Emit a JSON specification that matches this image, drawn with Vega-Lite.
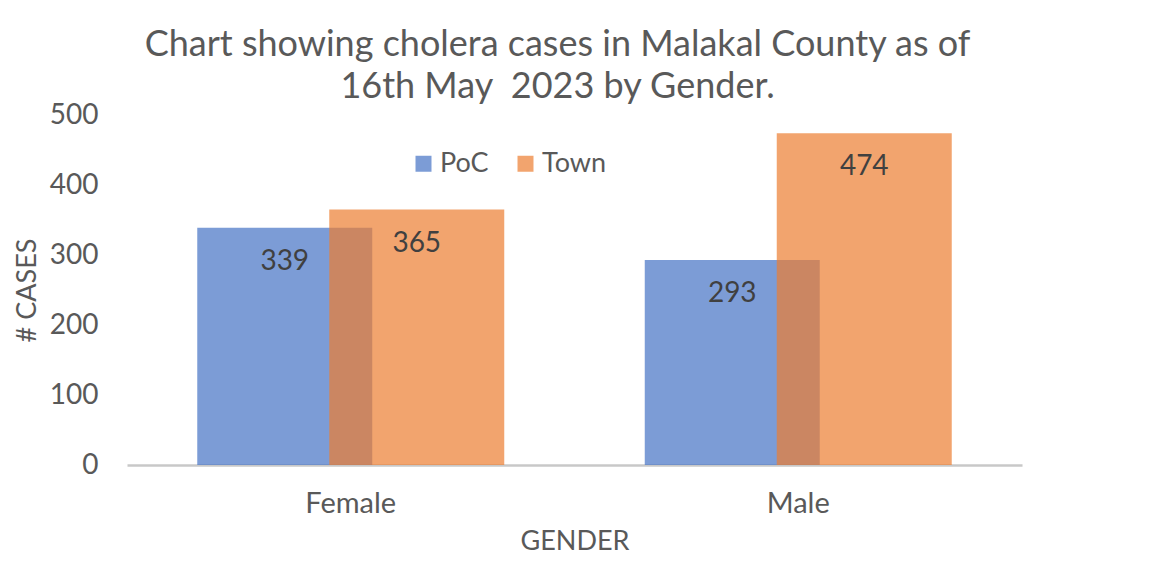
{
  "$schema": "https://vega.github.io/schema/vega-lite/v6.json",
  "width": 895,
  "height": 350,
  "autosize": {"type": "none"},
  "padding": {"left": 127, "top": 115, "right": 131, "bottom": 98},
  "background": "white",
  "title": {
    "text": ["Chart showing cholera cases in Malakal County as of", "16th May\u00a0 2023 by Gender."],
    "font": "Lato",
    "fontSize": 36,
    "fontWeight": "normal",
    "color": "#595959",
    "anchor": "middle",
    "dx": -17,
    "offset": -5,
    "lineHeight": 42
  },
  "data": {
    "values": [
      {"Gender": "Female", "Series": "PoC", "Cases": 339},
      {"Gender": "Female", "Series": "Town", "Cases": 365},
      {"Gender": "Male", "Series": "PoC", "Cases": 293},
      {"Gender": "Male", "Series": "Town", "Cases": 474}
    ]
  },
  "encoding": {
    "x": {
      "field": "Gender",
      "type": "nominal",
      "scale": {"paddingInner": 0, "paddingOuter": 0},
      "axis": {
        "title": "GENDER",
        "labelAngle": 0,
        "labelFont": "Lato",
        "labelFontSize": 29,
        "labelColor": "#595959",
        "labelPadding": 24,
        "ticks": false,
        "domainColor": "#c8c8c8",
        "domainWidth": 2.5,
        "titleFont": "Lato",
        "titleFontSize": 27,
        "titleFontWeight": "normal",
        "titleColor": "#595959",
        "titlePadding": 10
      }
    },
    "y": {
      "field": "Cases",
      "type": "quantitative",
      "scale": {"domain": [0, 500]},
      "axis": {
        "title": "# CASES",
        "values": [0, 100, 200, 300, 400, 500],
        "grid": false,
        "domain": false,
        "ticks": false,
        "labelFont": "Lato",
        "labelFontSize": 28,
        "labelColor": "#595959",
        "labelPadding": 29,
        "titleFont": "Lato",
        "titleFontSize": 27,
        "titleFontWeight": "normal",
        "titleColor": "#595959",
        "titlePadding": 8
      }
    },
    "color": {
      "field": "Series",
      "type": "nominal",
      "scale": {"domain": ["PoC", "Town"], "range": ["#4472C4", "#ED7D31"]},
      "legend": {
        "title": null,
        "orient": "none",
        "direction": "horizontal",
        "legendX": 283,
        "legendY": 35,
        "symbolType": "square",
        "symbolSize": 256,
        "symbolOpacity": 0.7,
        "symbolStrokeWidth": 0,
        "labelFont": "Lato",
        "labelFontSize": 27,
        "labelColor": "#595959",
        "labelOffset": 3,
        "columnPadding": 23
      }
    }
  },
  "layer": [
    {
      "transform": [{"filter": "datum.Series === 'PoC'"}],
      "mark": {"type": "bar", "width": 175, "xOffset": -66, "opacity": 0.7}
    },
    {
      "transform": [{"filter": "datum.Series === 'Town'"}],
      "mark": {"type": "bar", "width": 175, "xOffset": 66, "opacity": 0.7}
    },
    {
      "transform": [{"filter": "datum.Series === 'PoC'"}],
      "mark": {"type": "text", "xOffset": -66, "dy": 34, "baseline": "middle", "font": "Lato", "fontSize": 28, "color": "#404040"},
      "encoding": {"text": {"field": "Cases", "type": "quantitative"}, "color": {"value": "#404040"}}
    },
    {
      "transform": [{"filter": "datum.Series === 'Town'"}],
      "mark": {"type": "text", "xOffset": 66, "dy": 34, "baseline": "middle", "font": "Lato", "fontSize": 28, "color": "#404040"},
      "encoding": {"text": {"field": "Cases", "type": "quantitative"}, "color": {"value": "#404040"}}
    }
  ],
  "config": {"view": {"stroke": null}}
}
